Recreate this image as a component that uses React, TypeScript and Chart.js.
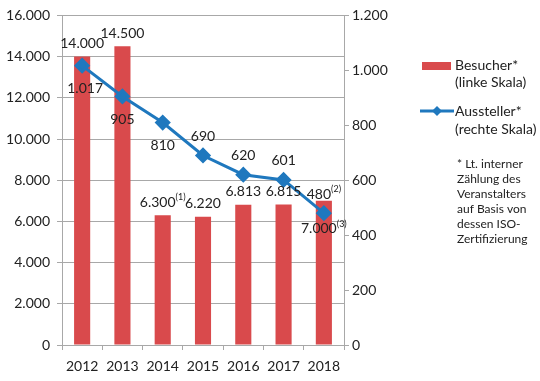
import React, { useEffect, useRef } from "react";
import { Chart, registerables } from "chart.js";

Chart.register(...registerables);

const years = ["2012", "2013", "2014", "2015", "2016", "2017", "2018"];
const visitors = [14000, 14500, 6300, 6220, 6813, 6815, 7000];
const exhibitors = [1017, 905, 810, 690, 620, 601, 480];
const visitorText = ["14.000", "14.500", "6.300", "6.220", "6.813", "6.815", "7.000"];
const visitorSup = ["", "", "(1)", "", "", "", "(3)"];
const exhibitorText = ["1.017", "905", "810", "690", "620", "601", "480"];
const exhibitorSup = ["", "", "", "", "", "", "(2)"];
const leftTicks = [0, 2000, 4000, 6000, 8000, 10000, 12000, 14000, 16000];
const rightTicks = [0, 200, 400, 600, 800, 1000, 1200];
const legendLabels = ["Besucher*", "(linke Skala)", "Aussteller*", "(rechte Skala)"];
const footnote = ["* Lt. interner", "Zählung des", "Veranstalters", "auf Basis von", "dessen ISO-", "Zertifizierung"];

const RED = "#D94A4C";
const BLUE = "#1F78BE";
const GRID = "#A8A8A8";
const FONT = "Lato";
const TEXT = "#222";

const fmt = (v: number) => v.toLocaleString("de-DE");

function drawLabel(ctx: CanvasRenderingContext2D, x: number, y: number, main: string, sup: string) {
  ctx.font = `14px ${FONT}`;
  const w1 = ctx.measureText(main).width;
  ctx.font = `9px ${FONT}`;
  const w2 = sup ? ctx.measureText(sup).width : 0;
  const start = x - (w1 + w2) / 2;
  ctx.textAlign = "left";
  ctx.textBaseline = "middle";
  ctx.fillStyle = TEXT;
  ctx.font = `14px ${FONT}`;
  ctx.fillText(main, start, y);
  if (sup) {
    ctx.font = `9px ${FONT}`;
    ctx.fillText(sup, start + w1, y - 5);
  }
}

const labelPlugin = {
  id: "labels",
  afterDatasetsDraw(chart: any) {
    const ctx = chart.ctx as CanvasRenderingContext2D;
    const xs = chart.scales.x;
    const yl = chart.scales.y;
    const yr = chart.scales.y1;
    ctx.save();
    visitors.forEach((v, i) => {
      const x = xs.getPixelForValue(i);
      const last = i === visitors.length - 1;
      const y = last ? yl.getPixelForValue(v) + 28 : yl.getPixelForValue(v) - 13;
      drawLabel(ctx, x, y, visitorText[i], visitorSup[i]);
    });
    exhibitors.forEach((v, i) => {
      const x = xs.getPixelForValue(i);
      const below = i < 3;
      const y = below ? yr.getPixelForValue(v) + 23 : yr.getPixelForValue(v) - 19;
      const dx = i === 0 ? 3 : 0;
      drawLabel(ctx, x + dx, y, exhibitorText[i], exhibitorSup[i]);
    });
    // legend
    ctx.fillStyle = RED;
    ctx.fillRect(422, 62, 29, 8);
    ctx.strokeStyle = BLUE;
    ctx.lineWidth = 3;
    ctx.beginPath();
    ctx.moveTo(420, 111);
    ctx.lineTo(454, 111);
    ctx.stroke();
    ctx.fillStyle = BLUE;
    ctx.beginPath();
    ctx.moveTo(437, 106);
    ctx.lineTo(442, 111);
    ctx.lineTo(437, 116);
    ctx.lineTo(432, 111);
    ctx.closePath();
    ctx.fill();
    ctx.fillStyle = TEXT;
    ctx.textAlign = "left";
    ctx.textBaseline = "middle";
    ctx.font = `14px ${FONT}`;
    const ly = [65, 82, 111, 129];
    legendLabels.forEach((t, i) => ctx.fillText(t, 455, ly[i]));
    ctx.font = `12px ${FONT}`;
    footnote.forEach((t, i) => ctx.fillText(t, 457, 164 + i * 15));
    ctx.restore();
  },
};

export default function App() {
  const ref = useRef<HTMLCanvasElement>(null);
  useEffect(() => {
    document.body.style.margin = "0";
    const chart = new Chart(ref.current as HTMLCanvasElement, {
      type: "bar",
      data: {
        labels: years,
        datasets: [
          {
            type: "line",
            label: "Aussteller*",
            data: exhibitors,
            yAxisID: "y1",
            borderColor: BLUE,
            backgroundColor: BLUE,
            borderWidth: 3,
            pointStyle: "rectRot",
            pointRadius: 6,
            pointHoverRadius: 6,
            tension: 0,
            order: 0,
          },
          {
            type: "bar",
            label: "Besucher*",
            data: visitors,
            yAxisID: "y",
            backgroundColor: RED,
            categoryPercentage: 1,
            barPercentage: 0.4,
            order: 1,
          },
        ],
      } as any,
      options: {
        animation: false,
        responsive: false,
        maintainAspectRatio: false,
        layout: { padding: { top: 15, right: 140, left: 0, bottom: 0 } },
        plugins: { legend: { display: false }, tooltip: { enabled: false } },
        scales: {
          x: {
            offset: true,
            grid: { offset: true, drawOnChartArea: false, color: GRID, tickLength: 5 },
            border: { color: GRID },
            ticks: { color: TEXT, font: { family: FONT, size: 14 }, padding: 8, maxRotation: 0 },
            afterFit: (s: any) => { s.height = 36; },
          },
          y: {
            position: "left",
            min: 0,
            max: 16000,
            afterBuildTicks: (s: any) => { s.ticks = leftTicks.map((v) => ({ value: v })); },
            grid: { color: GRID, tickLength: 5 },
            border: { color: GRID },
            ticks: { color: TEXT, font: { family: FONT, size: 14 }, padding: 7, callback: (v: any) => fmt(Number(v)) },
            afterFit: (s: any) => { s.width = 62; },
          },
          y1: {
            position: "right",
            min: 0,
            max: 1200,
            afterBuildTicks: (s: any) => { s.ticks = rightTicks.map((v) => ({ value: v })); },
            grid: { drawOnChartArea: false, color: GRID, tickLength: 5 },
            border: { color: GRID },
            ticks: { color: TEXT, font: { family: FONT, size: 14 }, padding: 3, callback: (v: any) => fmt(Number(v)) },
            afterFit: (s: any) => { s.width = 56; },
          },
        },
      } as any,
      plugins: [labelPlugin],
    });
    return () => chart.destroy();
  }, []);
  return (
    <div style={{ width: 540, height: 381, background: "#fff" }}>
      <canvas ref={ref} width={540} height={381} style={{ display: "block" }} />
    </div>
  );
}
